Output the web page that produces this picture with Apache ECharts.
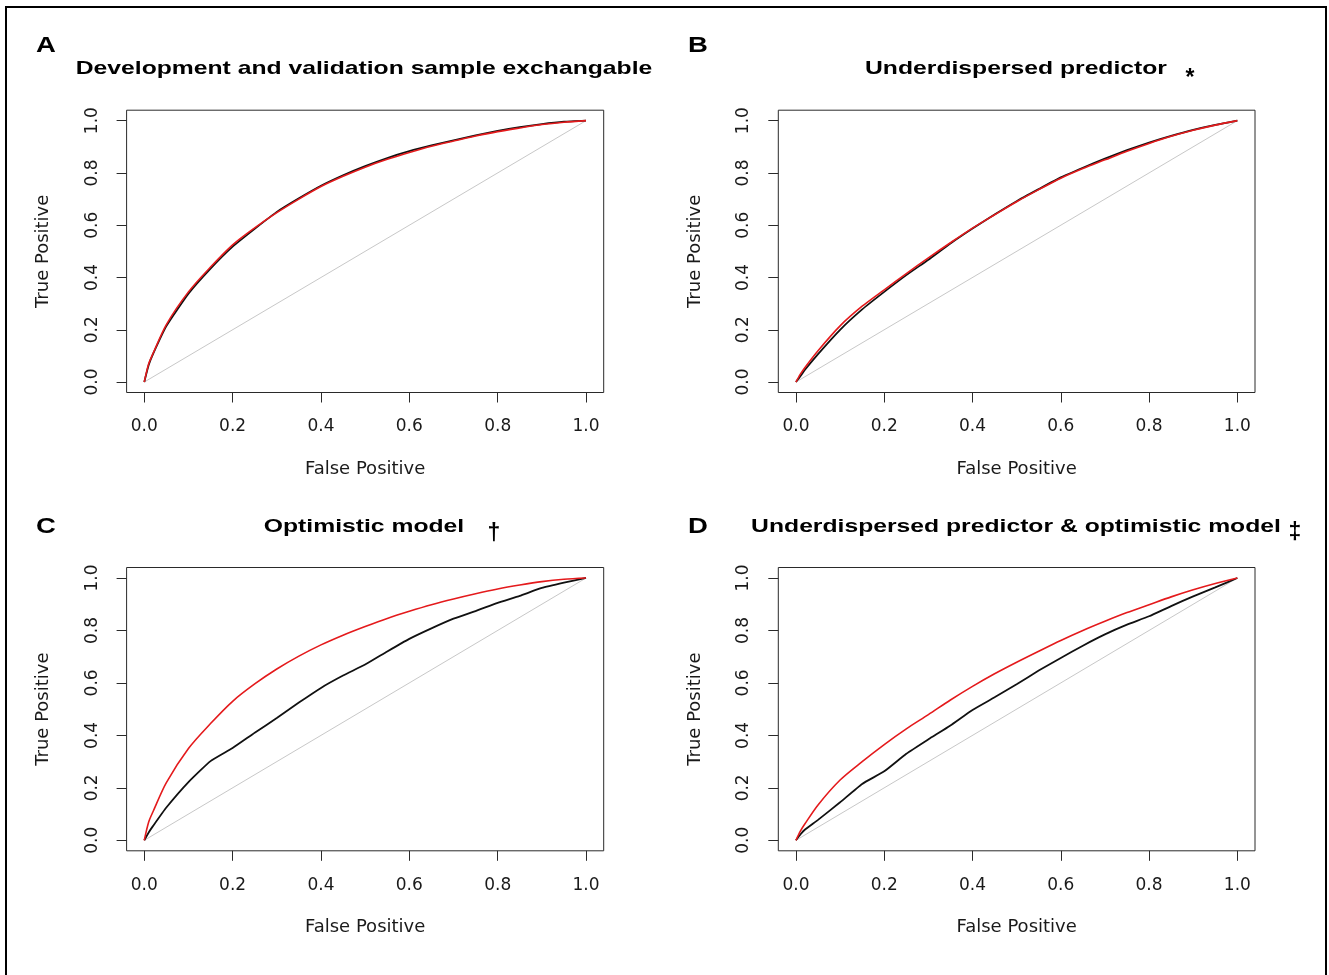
<!DOCTYPE html>
<html>
<head>
<meta charset="utf-8">
<script src="https://cdn.jsdelivr.net/npm/echarts@6/dist/echarts.min.js"></script>
<style>
  html, body { margin: 0; padding: 0; background: #fff; }
  #chart { width: 1329px; height: 975px; }
</style>
</head>
<body>
<div id="chart"></div>
<script>
// false positive rate grid shared by all curves
var fpr = [0, 0.01, 0.02, 0.05, 0.1, 0.15, 0.2, 0.25, 0.3, 0.35, 0.4, 0.45, 0.5,
           0.55, 0.6, 0.65, 0.7, 0.75, 0.8, 0.85, 0.9, 0.95, 1];

// A: development and validation exchangeable
var tprA_black = [0, 0.065, 0.108, 0.214, 0.338, 0.434, 0.518, 0.586, 0.651, 0.703, 0.751, 0.791, 0.826,
                  0.857, 0.883, 0.905, 0.925, 0.944, 0.961, 0.975, 0.987, 0.996, 1];
var tprA_red   = [0, 0.07, 0.11, 0.22, 0.345, 0.44, 0.525, 0.59, 0.648, 0.70, 0.748, 0.787, 0.822,
                  0.852, 0.878, 0.902, 0.922, 0.941, 0.958, 0.972, 0.985, 0.994, 1];
// B: underdispersed predictor
var tprB_black = [0, 0.022, 0.046, 0.107, 0.2, 0.278, 0.345, 0.409, 0.468, 0.53, 0.587, 0.641, 0.692,
                  0.738, 0.783, 0.82, 0.855, 0.887, 0.916, 0.942, 0.965, 0.984, 1];
var tprB_red   = [0, 0.03, 0.055, 0.12, 0.215, 0.29, 0.353, 0.415, 0.475, 0.533, 0.589, 0.64, 0.69,
                  0.736, 0.78, 0.817, 0.85, 0.883, 0.913, 0.94, 0.963, 0.983, 1];
// C: optimistic model
var tprC_black = [0, 0.03, 0.055, 0.125, 0.222, 0.302, 0.352, 0.41, 0.466, 0.525, 0.581, 0.628, 0.67,
                  0.72, 0.768, 0.808, 0.845, 0.874, 0.905, 0.932, 0.962, 0.982, 1];
var tprC_red   = [0, 0.07, 0.11, 0.22, 0.35, 0.445, 0.53, 0.596, 0.653, 0.702, 0.745, 0.782, 0.815,
                  0.846, 0.873, 0.898, 0.92, 0.94, 0.958, 0.973, 0.986, 0.995, 1];
// D: underdispersed predictor & optimistic model
var tprD_black = [0, 0.022, 0.04, 0.078, 0.145, 0.215, 0.263, 0.33, 0.385, 0.438, 0.497, 0.545, 0.595,
                  0.647, 0.695, 0.742, 0.785, 0.822, 0.854, 0.893, 0.93, 0.964, 1];
var tprD_red   = [0, 0.035, 0.062, 0.135, 0.23, 0.3, 0.365, 0.425, 0.479, 0.535, 0.587, 0.635, 0.679,
                  0.721, 0.762, 0.8, 0.835, 0.868, 0.898, 0.928, 0.955, 0.979, 1];

var diagonal = [0, 1];
var tickValues = [0, 0.2, 0.4, 0.6, 0.8, 1.0];

var letters = ['A', 'B', 'C', 'D'];
var titles = ['Development and validation sample exchangable', 'Underdispersed predictor',
              'Optimistic model', 'Underdispersed predictor & optimistic model'];
var marks = ['', '*', '\u2020', '\u2021'];

var blacks = [tprA_black, tprB_black, tprC_black, tprD_black];
var reds = [tprA_red, tprB_red, tprC_red, tprD_red];

function pairs(xs, ys) {
    return xs.map(function (x, i) { return [x, ys[i]]; });
}

var chart = echarts.init(document.getElementById('chart'), null, { renderer: 'canvas' });

// plot boxes (R style, axis range extended 4% on each side)
var boxes = [
    { left: 126.6, top: 110.2, width: 477.1, height: 282.3 },
    { left: 778.3, top: 110.2, width: 476.7, height: 282.3 },
    { left: 126.6, top: 567.5, width: 477.1, height: 283.3 },
    { left: 778.3, top: 567.5, width: 476.7, height: 283.3 }
];
var titlePos = [[364, 69], [1016, 69], [364, 527], [1016, 527]];
var markPos = [[0, 0], [1190, 79], [494, 534], [1295, 533]];
var letterPos = [[46, 46], [698, 46], [46, 527], [698, 527]];

var axisFont = 'DejaVu Sans';
var grids = [], xAxes = [], yAxes = [], series = [], graphics = [];

boxes.forEach(function (b, i) {
    grids.push({
        left: b.left, top: b.top, width: b.width, height: b.height,
        show: true, borderColor: '#2a2a2a', borderWidth: 1, backgroundColor: 'transparent'
    });
    xAxes.push({
        type: 'value', gridIndex: i, min: -0.04, max: 1.04,
        axisLine: { show: false, onZero: false },
        splitLine: { show: false },
        axisTick: { show: true, length: 10, customValues: tickValues, lineStyle: { color: '#2a2a2a' } },
        axisLabel: {
            customValues: tickValues, margin: 26, fontSize: 17, fontFamily: axisFont, color: '#1a1a1a',
            formatter: function (v) { return v.toFixed(1); }
        },
        name: 'False Positive', nameLocation: 'middle', nameGap: 68, nameMoveOverlap: false,
        nameTextStyle: { fontSize: 18, fontFamily: axisFont, color: '#1a1a1a' }
    });
    yAxes.push({
        type: 'value', gridIndex: i, min: -0.04, max: 1.04,
        axisLine: { show: false, onZero: false },
        splitLine: { show: false },
        axisTick: { show: true, length: 10, customValues: tickValues, lineStyle: { color: '#2a2a2a' } },
        axisLabel: {
            customValues: tickValues, margin: 26, rotate: 90, fontSize: 17, fontFamily: axisFont, color: '#1a1a1a',
            formatter: function (v) { return v.toFixed(1); }
        },
        name: 'True Positive', nameLocation: 'middle', nameGap: 74, nameRotate: 90, nameMoveOverlap: false,
        nameTextStyle: { fontSize: 18, fontFamily: axisFont, color: '#1a1a1a' }
    });
    series.push({
        type: 'line', xAxisIndex: i, yAxisIndex: i, data: pairs(diagonal, diagonal),
        showSymbol: false, silent: true, lineStyle: { color: '#c8c8c8', width: 1 }
    });
    series.push({
        type: 'line', xAxisIndex: i, yAxisIndex: i, data: pairs(fpr, blacks[i]), smooth: 0.15,
        showSymbol: false, lineStyle: { color: '#111', width: 1.8 }
    });
    series.push({
        type: 'line', xAxisIndex: i, yAxisIndex: i, data: pairs(fpr, reds[i]), smooth: 0.3,
        showSymbol: false, lineStyle: { color: '#e41a1c', width: 1.6 }
    });

    graphics.push({
        type: 'text', x: titlePos[i][0], y: titlePos[i][1], scaleX: 1.3,
        style: {
            text: titles[i], font: 'bold 19px "Liberation Sans", Arial, sans-serif',
            textAlign: 'center', textVerticalAlign: 'middle', align: 'center', verticalAlign: 'middle', fill: '#000'
        }
    });
    graphics.push({
        type: 'text', x: letterPos[i][0], y: letterPos[i][1], scaleX: 1.25,
        style: {
            text: letters[i], font: 'bold 22px "Liberation Sans", Arial, sans-serif',
            textAlign: 'center', textVerticalAlign: 'middle', align: 'center', verticalAlign: 'middle', fill: '#000'
        }
    });
    if (marks[i]) {
        graphics.push({
            type: 'text', x: markPos[i][0], y: markPos[i][1],
            style: {
                text: marks[i], font: 'bold 23px "Liberation Sans", Arial, sans-serif',
                textAlign: 'center', textVerticalAlign: 'middle', align: 'center', verticalAlign: 'middle', fill: '#000'
            }
        });
    }
});

// outer frame of the figure
graphics.push({
    type: 'rect', shape: { x: 6, y: 7, width: 1320, height: 990 },
    style: { fill: 'none', stroke: '#000', lineWidth: 2 }, z: 10
});

chart.setOption({
    backgroundColor: '#fff',
    animation: false,
    grid: grids,
    xAxis: xAxes,
    yAxis: yAxes,
    series: series,
    graphic: graphics
});
</script>
</body>
</html>
